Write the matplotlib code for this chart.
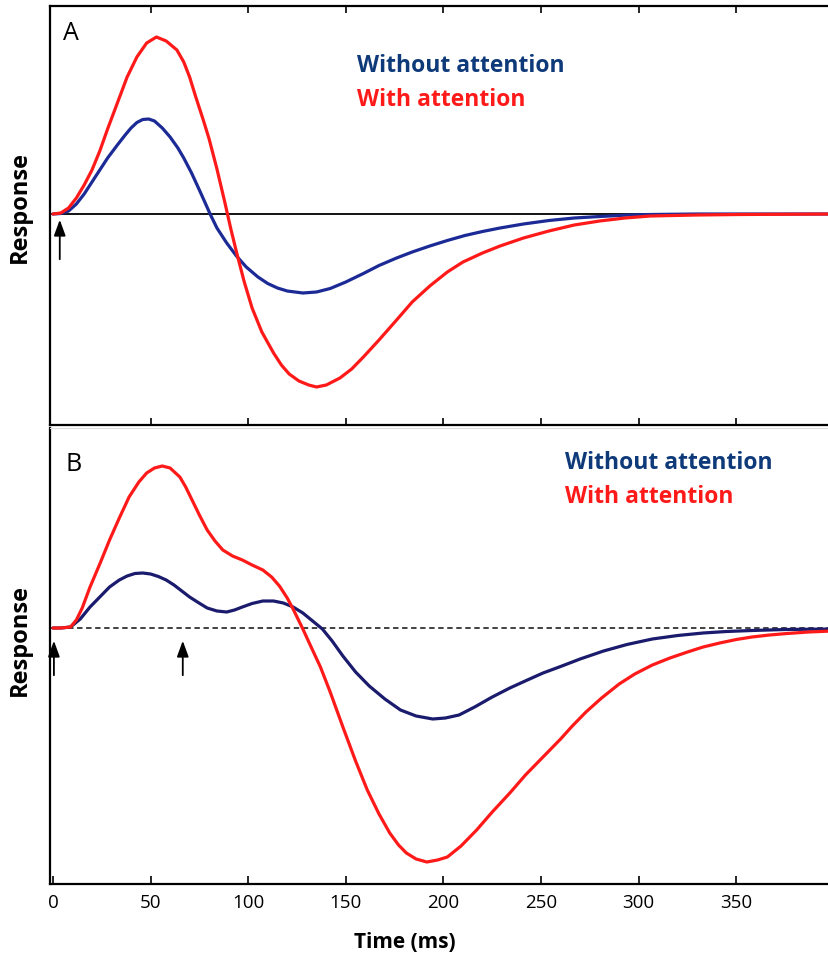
import matplotlib.pyplot as plt

plt.rcParams['font.family'] = ['Open Sans', 'DejaVu Sans']

# Panel A: response in arbitrary units vs time (ms)
a_red_t = [0, 4, 8, 12, 16, 20, 24, 28, 33, 38, 43, 48, 53, 58, 63.5, 67, 70, 73, 77, 80, 84, 88, 91, 94, 98, 102,
           107, 113, 117, 121, 126, 131, 135, 140, 147, 153, 159, 167, 176, 184, 193, 202, 210, 220, 229, 241, 254,
           267, 280, 293, 306, 330, 352, 399]
a_red_v = [0, 1, 6, 16, 29, 44, 63, 85, 111, 137, 157, 171, 177, 173, 164, 152, 137, 118, 94, 75, 45, 12, -14, -38,
           -68, -94, -118, -139, -151, -160, -167, -171, -173, -171, -164, -155, -143, -126, -106, -88, -72, -58, -48,
           -39, -32, -24, -17, -11, -7, -4, -2, -1, -0.5, 0]
a_blue_t = [0, 4, 8, 12, 16, 20, 24, 28, 33, 37, 40, 43, 46, 49, 52, 56, 60, 64, 67, 71, 75, 78, 80.5, 84, 89, 94,
            99, 105, 110, 115, 120, 128, 135, 142, 150, 159, 167, 176, 184, 193, 202, 211, 220, 229, 241, 254, 267,
            280, 293, 306, 330, 399]
a_blue_v = [0, 0.5, 3, 10, 20, 32, 44, 56, 69, 79, 86, 91.5, 94.5, 95, 93, 86, 77, 66, 56, 41, 24, 11, 0, -14, -29,
            -42, -53, -63, -69.5, -74, -77, -79, -78, -74.5, -68, -59.5, -51.5, -44, -38, -32, -26.5, -21.5, -17.5,
            -14, -10, -6.5, -4, -2.5, -1.2, -0.5, 0, 0]

# Panel B
b_red_t = [0, 4, 9, 12, 15, 19, 24, 29, 34, 39, 44, 48, 52, 56, 60, 65, 68, 72, 75, 79, 83, 87, 92, 97, 102, 107.5,
           112, 116, 120, 123, 126, 128, 132, 137, 142, 148.5, 155, 161, 167, 172.5, 177, 181, 186, 191.5, 197, 202,
           209, 217, 225, 234, 242, 251, 260, 266, 273, 281, 290, 298, 307, 316, 325, 333, 341.5, 350, 358, 367, 376,
           387, 399]
b_red_v = [0, 0, 1, 8, 20, 41, 64, 88, 110, 131, 146, 155, 160, 162, 160, 151, 141, 125, 113, 98, 87, 78, 72, 68, 63,
           58, 51, 42, 30, 19, 7, -1, -18, -39, -64, -99, -133, -162, -186, -205, -217, -225, -231, -234, -232, -229,
           -218, -202, -184, -165, -147, -129, -111, -98, -84, -70, -56, -46, -37, -30, -24, -19, -15, -11.5, -9, -7,
           -5.5, -4, -3]
b_blue_t = [0, 4, 9, 14, 19, 24, 29, 34, 38, 42, 46, 50, 54, 58, 62, 66, 70, 74, 79, 84, 89, 93, 97, 102, 107.5, 113,
            118, 123, 128, 133, 138, 143, 148.5, 155, 162, 170, 178, 186, 194.5, 201, 208, 216, 225, 234, 243, 251,
            260, 270, 282, 294, 307, 320, 333, 345, 358, 375, 399]
b_blue_v = [0, 0, 1, 9, 21, 31, 41, 48, 52, 54.5, 55, 54, 51.5, 48, 43, 37, 31, 26, 20, 17, 16, 18, 21, 24.5, 27, 27,
            25, 21, 15, 7, -1, -13, -28, -44, -58, -71, -82, -88, -91, -90, -87, -79, -69, -60, -52, -45, -38.5, -31,
            -23, -16.5, -11, -7.5, -5, -3.5, -2.5, -1.5, -1]

ticks = [0, 50, 100, 150, 200, 250, 300, 350]
arrows_a = [3.5]
arrows_b = [0.5, 66.5]

red = '#ff1a1a'
blue_a = '#1c2a96'
blue_b = '#1b1b6e'
label_blue = '#0f3a7a'

W, H = 829, 957
fig = plt.figure(figsize=(W / 100, H / 100), dpi=100)

def box(x0, y0, x1, y1):
    return [x0 / W, 1 - y1 / H, (x1 - x0) / W, (y1 - y0) / H]

xlim = (-1.5, 399)
arrow_style = dict(arrowstyle='-|>,head_length=0.6,head_width=0.22', color='black', lw=1.3, mutation_scale=16)

# ---- panel A
axA = fig.add_axes(box(50, 6, 832, 425))
axA.plot(a_blue_t, a_blue_v, color=blue_a, lw=2.3, solid_capstyle='round', solid_joinstyle='round', zorder=3)
axA.plot(a_red_t, a_red_v, color=red, lw=2.3, solid_capstyle='round', solid_joinstyle='round', zorder=3)
axA.axhline(0, color='black', lw=1.3, zorder=2)
axA.set_xlim(*xlim)
axA.set_ylim(-211, 208)
axA.set_xticks(ticks[1:])
axA.tick_params(axis='x', direction='in', top=True, bottom=True, labelbottom=False, length=5, width=1.2)
axA.set_yticks([])
axA.spines['right'].set_visible(False)
for s in ['left', 'top', 'bottom']:
    axA.spines[s].set_linewidth(1.6)
for t in arrows_a:
    axA.annotate('', xy=(t, -3), xytext=(t, -48), arrowprops=arrow_style)
axA.text(0.016, 0.935, 'A', transform=axA.transAxes, fontsize=18, va='center', ha='left')
axA.text(0.392, 0.857, 'Without attention', transform=axA.transAxes, fontsize=16.5,
         fontweight='bold', color=label_blue, ha='left', va='center')
axA.text(0.392, 0.775, 'With attention', transform=axA.transAxes, fontsize=16.5,
         fontweight='bold', color=red, ha='left', va='center')

# ---- panel B
axB = fig.add_axes(box(50, 428, 832, 884))
axB.plot(b_blue_t, b_blue_v, color=blue_b, lw=2.3, solid_capstyle='round', solid_joinstyle='round', zorder=3)
axB.plot(b_red_t, b_red_v, color=red, lw=2.3, solid_capstyle='round', solid_joinstyle='round', zorder=3)
axB.axhline(0, color='#333333', lw=1.3, ls=(0, (3, 2)), zorder=2)
axB.set_xlim(*xlim)
axB.set_ylim(-256, 200)
axB.set_xticks(ticks)
axB.set_xticklabels([str(t) for t in ticks], fontsize=13.5)
axB.tick_params(axis='x', direction='in', length=6, width=1.2, pad=7)
axB.set_yticks([])
axB.spines['right'].set_visible(False)
axB.spines['top'].set_color('#dddddd')
axB.spines['top'].set_linewidth(0.8)
axB.spines['left'].set_linewidth(1.6)
axB.spines['bottom'].set_linewidth(1.6)
for t in arrows_b:
    axB.annotate('', xy=(t, -10), xytext=(t, -50), arrowprops=arrow_style)
axB.text(0.02, 0.92, 'B', transform=axB.transAxes, fontsize=18, va='center', ha='left')
axB.text(0.659, 0.924, 'Without attention', transform=axB.transAxes, fontsize=16.5,
         fontweight='bold', color=label_blue, ha='left', va='center')
axB.text(0.659, 0.849, 'With attention', transform=axB.transAxes, fontsize=16.5,
         fontweight='bold', color=red, ha='left', va='center')

# axis titles
fig.text(20 / W, 1 - 207 / H, 'Response', rotation=90, fontsize=17, fontweight='bold', ha='center', va='center')
fig.text(20 / W, 1 - 640 / H, 'Response', rotation=90, fontsize=17, fontweight='bold', ha='center', va='center')
fig.text(405 / W, 1 - 942 / H, 'Time (ms)', fontsize=15, fontweight='bold', ha='center', va='center')

fig.savefig('out.png', dpi=100)
